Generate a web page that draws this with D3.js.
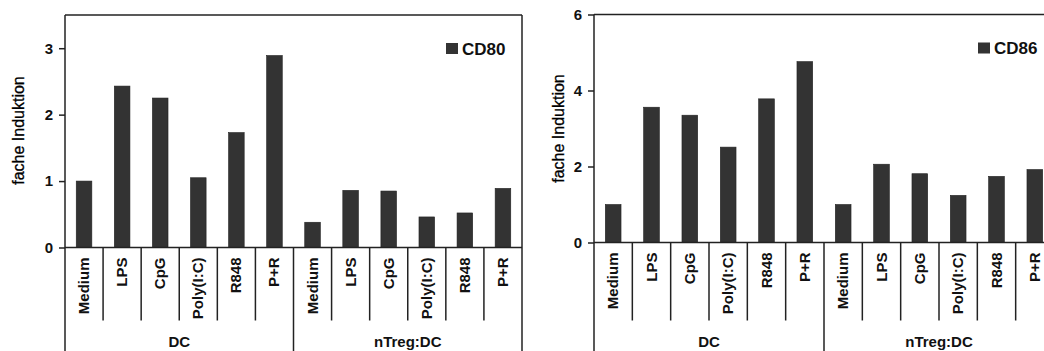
<!DOCTYPE html>
<head>
  <meta charset="utf-8">
  <script src="https://cdnjs.cloudflare.com/ajax/libs/d3/7.8.5/d3.min.js"></script>
  <style>
    body { margin:0; background:#fff; }
    svg { display:block; font-family:"Liberation Sans", Arial, sans-serif; }
  </style>
</head>

<body>
  <script>
    // data
    var stimuli = ["Medium", "LPS", "CpG", "Poly(I:C)", "R848", "P+R"];
    var groups = ["DC", "nTreg:DC"];
    var cd80 = [1.00, 2.43, 2.25, 1.05, 1.73, 2.89, 0.38, 0.86, 0.85, 0.46, 0.52, 0.89];
    var cd86 = [1.00, 3.56, 3.35, 2.51, 3.78, 4.76, 1.00, 2.06, 1.81, 1.24, 1.74, 1.92];
    var cd80Ticks = [0, 1, 2, 3];
    var cd86Ticks = [0, 2, 4, 6];

    var W = 1044, H = 351;
    var ink = "#222";
    var svg = d3.select("body").append("svg")
      .attr("width", W)
      .attr("height", H)
      .style("overflow", "hidden");

    var cats = [];
    groups.forEach(function(g){ stimuli.forEach(function(s){ cats.push(g + "|" + s); }); });

    function panel(opt) {
      var g = svg.append("g");
      var x = d3.scaleBand().domain(cats).range([opt.left, opt.right])
        .paddingInner(0.59).paddingOuter(0.295);
      var y = d3.scaleLinear().domain([0, opt.max]).range([opt.base, opt.top]);
      var step = x.step();
      var sepEnd = 320.5;

      // bars
      g.selectAll("rect.bar").data(opt.values).enter().append("rect")
        .attr("class", "bar")
        .attr("x", function(d, i){ return x(cats[i]); })
        .attr("y", function(d){ return y(d); })
        .attr("width", x.bandwidth())
        .attr("height", function(d){ return y(0) - y(d); })
        .style("fill", "#333")
        .style("stroke", "#222")
        .style("stroke-width", 0.6);

      // frame: top, left axis, optional right border
      g.append("line").attr("x1", opt.left).attr("x2", opt.right)
        .attr("y1", y(opt.max)).attr("y2", y(opt.max))
        .style("stroke", ink).style("stroke-width", 1.5);
      g.append("line").attr("x1", opt.left).attr("x2", opt.left)
        .attr("y1", y(opt.max)).attr("y2", H)
        .style("stroke", ink).style("stroke-width", 1.5);
      if (opt.rightBorder) {
        g.append("line").attr("x1", opt.right).attr("x2", opt.right)
          .attr("y1", y(opt.max)).attr("y2", H)
          .style("stroke", ink).style("stroke-width", 1.5);
      }
      // baseline
      g.append("line").attr("x1", opt.left).attr("x2", opt.right)
        .attr("y1", y(0)).attr("y2", y(0))
        .style("stroke", ink).style("stroke-width", 1.5);

      // category separators
      d3.range(1, cats.length).forEach(function(i){
        var xs = opt.left + i * step;
        var isGroup = i % stimuli.length == 0;
        g.append("line").attr("x1", xs).attr("x2", xs)
          .attr("y1", y(0)).attr("y2", isGroup ? H : sepEnd)
          .style("stroke", ink).style("stroke-width", 1.5);
      });

      // y axis
      var ax = g.append("g").attr("transform", "translate(" + opt.left + ",0)")
        .call(d3.axisLeft(y).tickValues(opt.ticks).tickSize(6).tickPadding(6).tickFormat(d3.format("d")));
      ax.attr("font-size", null).attr("font-family", null);
      ax.select(".domain").remove();
      ax.selectAll("line").style("stroke", ink).style("stroke-width", 1.5);
      ax.selectAll("text").style("font-size", "15px").style("font-weight", "bold")
        .style("fill", "#111");

      // category labels
      g.selectAll("text.cat").data(cats).enter().append("text")
        .attr("class", "cat")
        .attr("transform", function(d){
          return "translate(" + (x(d) + x.bandwidth() / 2 + 5) + "," + (y(0) + 10) + ") rotate(-90)";
        })
        .attr("text-anchor", "end")
        .style("font-size", "15px").style("font-weight", "bold").style("fill", "#111")
        .text(function(d){ return d.split("|")[1]; });

      // group labels, centred on each group's span
      g.selectAll("text.grp").data(groups).enter().append("text")
        .attr("class", "grp")
        .attr("x", function(d, i){ return opt.left + (i + 0.5) * stimuli.length * step; })
        .attr("y", 346.5)
        .attr("text-anchor", "middle")
        .style("font-size", "15px").style("font-weight", "bold").style("fill", "#111")
        .text(function(d){ return d; });

      // y title
      g.append("text")
        .attr("transform", "translate(" + opt.titleX + "," + opt.titleY + ") rotate(-90)")
        .attr("text-anchor", "middle")
        .style("font-size", "16px").style("fill", "#000")
        .style("stroke", "#000").style("stroke-width", 0.3)
        .text("fache Induktion");

      // legend
      var lx = opt.right - 76, ly = y(opt.max) + 28;
      g.append("rect").attr("x", lx).attr("y", ly).attr("width", 12).attr("height", 11)
        .style("fill", "#333");
      g.append("text").attr("x", lx + 16).attr("y", ly + 11.5)
        .style("font-size", "17px").style("font-weight", "bold").style("fill", "#111")
        .text(opt.name);
    }

    panel({ name: "CD80", values: cd80, ticks: cd80Ticks, max: 3.5,
            left: 65, right: 522, top: 15, base: 247.5,
            rightBorder: true, titleX: 24, titleY: 130.5 });
    panel({ name: "CD86", values: cd86, ticks: cd86Ticks, max: 6,
            left: 594, right: 1054, top: 14.5, base: 242.5,
            rightBorder: false, titleX: 564, titleY: 128.5 });
  </script>
</body>
